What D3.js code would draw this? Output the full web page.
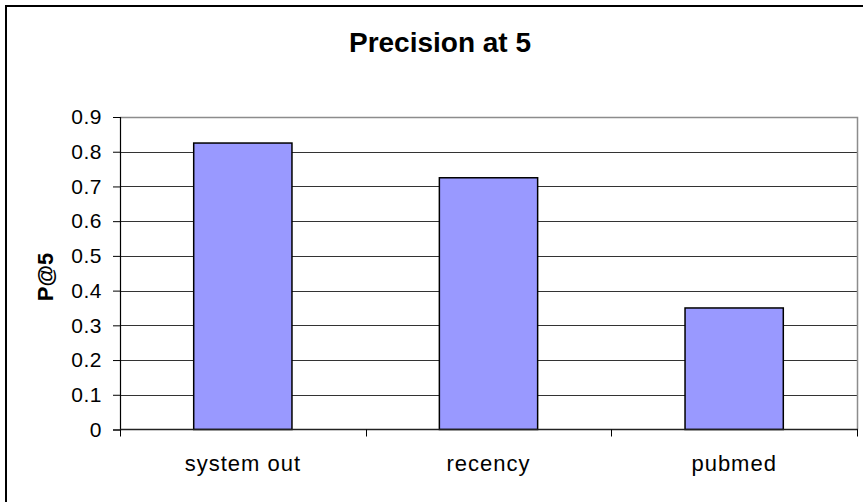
<!DOCTYPE html>
<html>
<head>
<meta charset="utf-8">
<script src="https://cdn.jsdelivr.net/npm/d3@7"></script>
<style>
  html, body { margin: 0; padding: 0; background: #fff; }
  svg { display: block; font-family: "Liberation Sans", Arial, sans-serif; }
</style>
</head>
<body>
<svg id="chart" width="863" height="502"></svg>
<script>
// Precision at rank 5 for each ranking method
const categories = ["system out", "recency", "pubmed"];
const values = [0.825, 0.725, 0.35];
const yTicks = [0, 0.1, 0.2, 0.3, 0.4, 0.5, 0.6, 0.7, 0.8, 0.9];
const yTickLabels = ["0", "0.1", "0.2", "0.3", "0.4", "0.5", "0.6", "0.7", "0.8", "0.9"];
const titleText = "Precision at 5";
const yTitleText = "P@5";

const svg = d3.select("#chart");
const plot = { left: 120, right: 857, top: 117, bottom: 429.5 };

// outer chart frame (runs off the right and bottom edges)
svg.append("rect")
  .attr("x", 6).attr("y", 6)
  .attr("width", 900).attr("height", 520)
  .attr("fill", "#fff")
  .attr("stroke", "#000")
  .attr("stroke-width", 2);

const x = d3.scaleBand()
  .domain(categories)
  .range([plot.left, plot.right])
  .paddingInner(0.6)
  .paddingOuter(0.3);

const y = d3.scaleLinear()
  .domain([0, 0.9])
  .range([plot.bottom, plot.top]);

// horizontal gridlines
svg.append("g")
  .selectAll("line")
  .data(yTicks.filter(t => t > 0 && t < 0.9))
  .join("line")
  .attr("x1", plot.left).attr("x2", plot.right)
  .attr("y1", d => Math.round(y(d)) + 0.5).attr("y2", d => Math.round(y(d)) + 0.5)
  .attr("stroke", "#333")
  .attr("stroke-width", 1.2);

// plot-area border: top and right in grey
svg.append("path")
  .attr("d", `M${plot.left},${plot.top + 0.5}H${plot.right + 0.5}V${plot.bottom}`)
  .attr("fill", "none")
  .attr("stroke", "#8c8c8c")
  .attr("stroke-width", 1.5);

// bars
svg.append("g")
  .selectAll("rect")
  .data(values)
  .join("rect")
  .attr("x", (d, i) => x(categories[i]))
  .attr("y", d => y(d))
  .attr("width", x.bandwidth())
  .attr("height", d => y(0) - y(d))
  .attr("fill", "#9999ff")
  .attr("stroke", "#000")
  .attr("stroke-width", 1.5);

// y axis
const yAxis = d3.axisLeft(y)
  .tickValues(yTicks)
  .tickFormat((d, i) => yTickLabels[i])
  .tickSize(7)
  .tickPadding(11);

const gy = svg.append("g")
  .attr("transform", `translate(${plot.left},0)`)
  .call(yAxis);
gy.select(".domain").attr("stroke", "#000").attr("stroke-width", 1.2);
gy.selectAll(".tick line").attr("stroke", "#000");
gy.selectAll(".tick text")
  .attr("font-family", "Liberation Sans, Arial, sans-serif")
  .attr("font-size", 21)
  .attr("letter-spacing", "0.5px")
  .attr("fill", "#000");

// x axis with tick marks at category boundaries
const boundaries = [plot.left].concat(categories.map(c => x(c) + x.bandwidth() + x.step() * x.paddingInner() / 2));
boundaries[boundaries.length - 1] = plot.right;
svg.append("line")
  .attr("x1", plot.left).attr("x2", plot.right + 1)
  .attr("y1", plot.bottom).attr("y2", plot.bottom)
  .attr("stroke", "#222")
  .attr("stroke-width", 1.5);
svg.append("g")
  .selectAll("line")
  .data(boundaries)
  .join("line")
  .attr("x1", d => Math.round(d) + 0.5).attr("x2", d => Math.round(d) + 0.5)
  .attr("y1", plot.bottom).attr("y2", plot.bottom + 7)
  .attr("stroke", "#000");

svg.append("g")
  .selectAll("text")
  .data(categories)
  .join("text")
  .attr("x", d => x(d) + x.bandwidth() / 2)
  .attr("y", 471)
  .attr("text-anchor", "middle")
  .attr("font-size", 22)
  .attr("letter-spacing", "1px")
  .attr("fill", "#000")
  .text(d => d);

// chart title
svg.append("text")
  .attr("x", 440)
  .attr("y", 52)
  .attr("text-anchor", "middle")
  .attr("font-size", 28)
  .attr("font-weight", "bold")
  .attr("fill", "#000")
  .text(titleText);

// y axis title
svg.append("text")
  .attr("transform", "translate(53,277) rotate(-90)")
  .attr("text-anchor", "middle")
  .attr("font-size", 22)
  .attr("font-weight", "bold")
  .attr("fill", "#000")
  .text(yTitleText);
</script>
</body>
</html>
